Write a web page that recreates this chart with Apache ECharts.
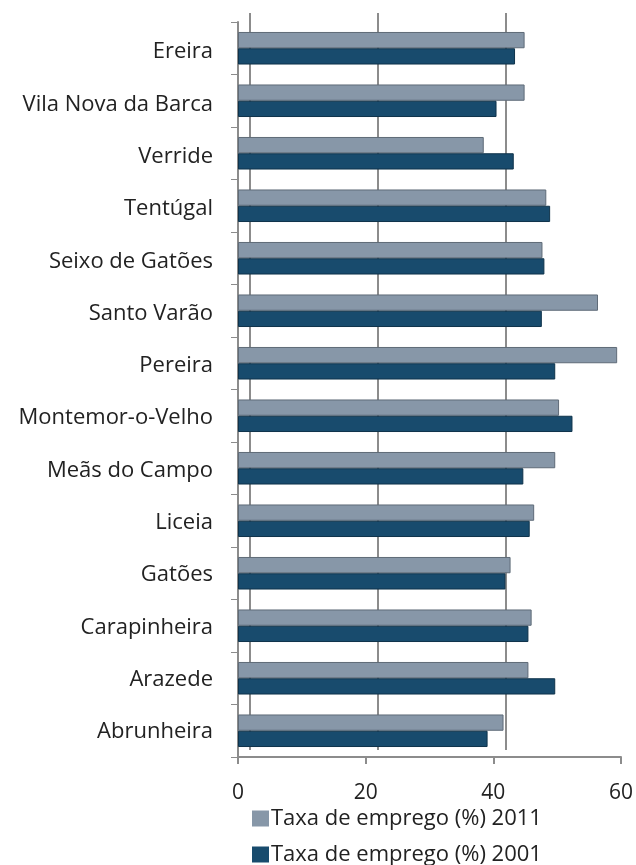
<!DOCTYPE html>
<html>
<head>
<meta charset="utf-8">
<script src="https://cdn.jsdelivr.net/npm/echarts@6/dist/echarts.min.js"></script>
<style>
  html, body { margin: 0; padding: 0; background: #fff; }
  #main { width: 636px; height: 865px; }
</style>
</head>
<body>
<div id="main"></div>
<script>
    // categorias (de cima para baixo)
    var freguesias = ['Ereira', 'Vila Nova da Barca', 'Verride', 'Tentúgal', 'Seixo de Gatões',
        'Santo Varão', 'Pereira', 'Montemor-o-Velho', 'Meãs do Campo', 'Liceia',
        'Gatões', 'Carapinheira', 'Arazede', 'Abrunheira'];
    var taxa2011 = [44.9, 44.9, 38.5, 48.3, 47.7, 56.4, 59.4, 50.3, 49.7, 46.4, 42.7, 46.0, 45.5, 41.6];
    var taxa2001 = [43.4, 40.5, 43.2, 48.9, 48.0, 47.6, 49.7, 52.4, 44.7, 45.7, 41.9, 45.5, 49.7, 39.1];
    var xTicks = [0, 20, 40, 60];

    var fonte = '"Open Sans", sans-serif';
    var cinza = '#8c8c8c';
    var myChart = echarts.init(document.getElementById('main'));
    var option = {
        animation: false,
        textStyle: { fontFamily: fonte },
        grid: [
            // eixo da frente (barras)
            { left: 238, right: 14, top: 22, bottom: 108 },
            // parede do fundo (linhas de grelha)
            { left: 250, right: 2, top: 13, bottom: 115 },
            // só para os rótulos das categorias
            { left: 238, right: 14, top: 26, bottom: 107 }
        ],
        legend: {
            orient: 'vertical',
            left: 247,
            top: 802,
            height: 100,
            itemWidth: 17,
            itemHeight: 16,
            itemGap: 13,
            icon: 'rect',
            itemStyle: { borderWidth: 0 },
            data: ['Taxa de emprego (%) 2011', 'Taxa de emprego (%) 2001'],
            textStyle: { fontSize: 22, lineHeight: 23, color: '#222', fontFamily: fonte, padding: [0, 0, 0, -3] }
        },
        xAxis: [{
            type: 'value',
            gridIndex: 0,
            min: xTicks[0],
            max: xTicks[xTicks.length - 1],
            interval: 20,
            axisLine: { show: true, lineStyle: { color: cinza, width: 2 } },
            axisTick: { show: true, length: 7, lineStyle: { color: cinza, width: 2 } },
            axisLabel: { fontSize: 21, color: '#222', margin: 26 },
            splitLine: { show: false }
        }, {
            type: 'value',
            gridIndex: 1,
            min: xTicks[0],
            max: xTicks[xTicks.length - 1],
            interval: 20,
            axisLine: { show: false },
            axisTick: { show: false },
            axisLabel: { show: false },
            splitLine: { show: true, lineStyle: { color: [cinza, cinza, cinza, 'rgba(0,0,0,0)'], width: 2 } }
        }, {
            type: 'value',
            gridIndex: 2,
            min: 0,
            max: 60,
            show: false
        }],
        yAxis: [{
            type: 'category',
            gridIndex: 0,
            inverse: true,
            data: freguesias,
            axisLine: { show: true, lineStyle: { color: cinza, width: 2 } },
            axisTick: { show: true, length: 7, lineStyle: { color: cinza, width: 1 } },
            axisLabel: { show: false }
        }, {
            type: 'category',
            gridIndex: 1,
            inverse: true,
            data: freguesias,
            show: false
        }, {
            type: 'category',
            gridIndex: 2,
            inverse: true,
            data: freguesias,
            axisLine: { show: false },
            axisTick: { show: false },
            axisLabel: { fontSize: 22, color: '#222', margin: 25 }
        }],
        series: [{
            name: 'Taxa de emprego (%) 2011',
            type: 'bar',
            xAxisIndex: 0,
            yAxisIndex: 0,
            data: taxa2011,
            barCategoryGap: '38%',
            barGap: '0%',
            itemStyle: { color: '#8797a8', borderColor: '#5f6b78', borderWidth: 1 }
        }, {
            name: 'Taxa de emprego (%) 2001',
            type: 'bar',
            xAxisIndex: 0,
            yAxisIndex: 0,
            data: taxa2001,
            itemStyle: { color: '#184b6d', borderColor: '#0f334b', borderWidth: 1 }
        }]
    };
    myChart.setOption(option);
</script>
</body>
</html>
